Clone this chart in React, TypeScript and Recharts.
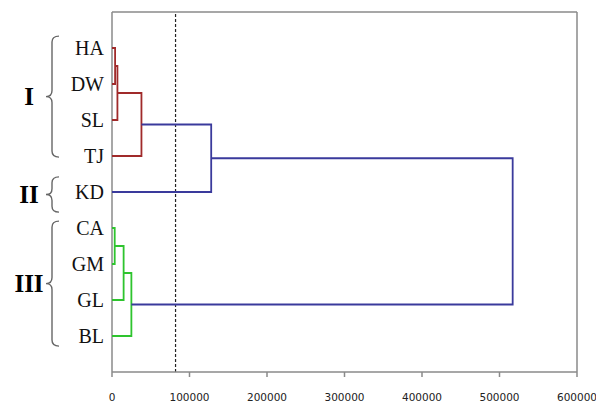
import React from "react";
import {
  ScatterChart,
  Scatter,
  XAxis,
  YAxis,
  ReferenceLine,
} from "recharts";

// leaves, top to bottom
const leaves = ["HA", "DW", "SL", "TJ", "KD", "CA", "GM", "GL", "BL"];

// merges, scipy-style: child ids < 9 are leaves, >= 9 are earlier merges
const mergeLeft = [0, 9, 10, 5, 12, 13, 11, 15];
const mergeRight = [1, 2, 3, 6, 7, 8, 4, 14];
const mergeHeight = [4000, 7000, 38000, 3500, 15000, 25000, 128000, 517000];
const mergeColor = ["red", "red", "red", "green", "green", "green", "blue", "blue"];

const xTicks = [0, 100000, 200000, 300000, 400000, 500000, 600000];
const cutHeight = 82000;

// groups shown with braces on the left
const groupLabels = ["I", "II", "III"];
const groupFrom = [0.67, 4.58, 5.81];
const groupTo = [4.03, 5.56, 9.28];

const COLORS: Record<string, string> = {
  red: "#A02A2A",
  green: "#2EC42E",
  blue: "#3A3A9C",
};

const W = 596;
const H = 406;
const TOP = 12;
const XAXIS_H = 34;
const PX_PER_UNIT = (H - TOP - XAXIS_H) / 10;

type Pt = { x: number; y: number };

function buildLinks() {
  const nodeX: number[] = leaves.map(() => 0);
  const nodeY: number[] = leaves.map((_, i) => i + 1);
  const links: { color: string; pts: Pt[] }[] = [];
  mergeHeight.forEach((h, i) => {
    const a = mergeLeft[i];
    const b = mergeRight[i];
    links.push({
      color: COLORS[mergeColor[i]],
      pts: [
        { x: nodeX[a], y: nodeY[a] },
        { x: h, y: nodeY[a] },
        { x: h, y: nodeY[b] },
        { x: nodeX[b], y: nodeY[b] },
      ],
    });
    nodeX.push(h);
    nodeY.push((nodeY[a] + nodeY[b]) / 2);
  });
  return links;
}

const links = buildLinks();
const groupTicks = groupFrom.map((f, i) => (f + groupTo[i]) / 2);

function GroupTick(props: any) {
  const { x, y, payload } = props;
  const index = groupTicks.findIndex((t) => Math.abs(t - payload?.value) < 1e-6);
  if (index < 0) return null;
  const half = ((groupTo[index] - groupFrom[index]) / 2) * PX_PER_UNIT;
  const endX = x - 1;
  const midX = x - 8;
  const tipX = x - 14;
  const r = Math.min(6, half / 3);
  const top = y - half;
  const bot = y + half;
  const d = [
    `M${endX},${top}`,
    `Q${midX},${top} ${midX},${top + r}`,
    `L${midX},${y - r}`,
    `Q${midX},${y} ${tipX},${y}`,
    `Q${midX},${y} ${midX},${y + r}`,
    `L${midX},${bot - r}`,
    `Q${midX},${bot} ${endX},${bot}`,
  ].join(" ");
  return (
    <g>
      <path d={d} fill="none" stroke="#666" strokeWidth={1.4} />
      <text
        x={x - 31}
        y={y}
        textAnchor="middle"
        dominantBaseline="central"
        fontFamily="Liberation Serif"
        fontWeight="bold"
        fontSize={25}
        fill="#000"
      >
        {groupLabels[index]}
      </text>
    </g>
  );
}

export default function App() {
  return (
    <div style={{ position: "absolute", left: 0, top: 0, background: "#fff" }}>
      <ScatterChart
        width={W}
        height={H}
        margin={{ top: TOP, right: 19, bottom: 0, left: 0 }}
      >
        <XAxis
          type="number"
          dataKey="x"
          domain={[0, 600000]}
          ticks={xTicks}
          allowDataOverflow
          height={XAXIS_H}
          stroke="#8a8a8a"
          strokeWidth={1.5}
          tickSize={5}
          tickMargin={17}
          tick={{ fontSize: 10.5, fontFamily: "DejaVu Sans", fill: "#222" }}
        />
        <YAxis
          yAxisId="groups"
          type="number"
          dataKey="y"
          domain={[0, 10]}
          reversed
          allowDataOverflow
          ticks={groupTicks}
          interval={0}
          width={60}
          axisLine={false}
          tickLine={false}
          tickSize={0}
          tickMargin={0}
          tick={(p: any) => <GroupTick {...p} />}
        />
        <YAxis
          type="number"
          dataKey="y"
          domain={[0, 10]}
          reversed
          allowDataOverflow
          ticks={leaves.map((_, i) => i + 1)}
          interval={0}
          tickFormatter={(v: number) => leaves[v - 1] ?? ""}
          width={52}
          stroke="#8a8a8a"
          strokeWidth={1.5}
          tickLine={false}
          tickSize={0}
          tickMargin={8}
          tick={{ fontSize: 20, fontFamily: "Liberation Serif", fill: "#111" }}
        />
        <ReferenceLine y={0} stroke="#8a8a8a" strokeWidth={1.5} />
        <ReferenceLine x={600000} stroke="#8a8a8a" strokeWidth={1.5} />
        <ReferenceLine
          x={cutHeight}
          stroke="#222"
          strokeWidth={1.2}
          strokeDasharray="3 2"
        />
        <Scatter
          yAxisId="groups"
          data={groupTicks.map((t) => ({ x: 0, y: t }))}
          shape={() => <g />}
          isAnimationActive={false}
          legendType="none"
        />
        {links.map((l, i) => (
          <Scatter
            key={i}
            data={l.pts}
            line={{ stroke: l.color, strokeWidth: 1.8 }}
            lineType="joint"
            shape={() => <g />}
            isAnimationActive={false}
            legendType="none"
          />
        ))}
      </ScatterChart>
    </div>
  );
}
